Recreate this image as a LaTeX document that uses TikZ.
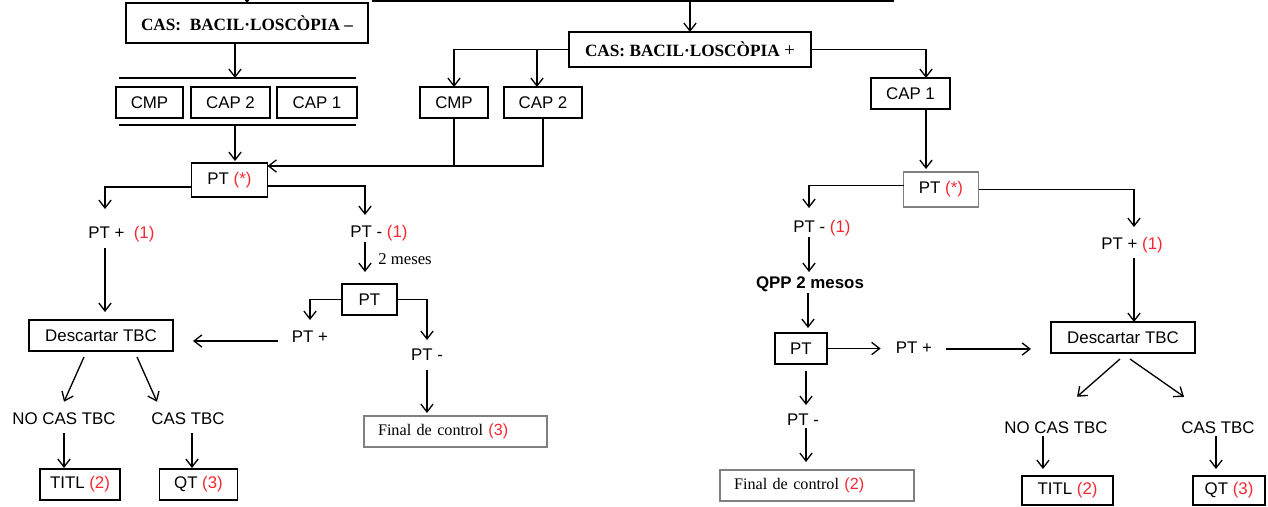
\documentclass[tikz,border=0pt]{standalone}
\usepackage{fontspec}
\setmainfont{Liberation Serif}
\setsansfont{Liberation Sans}
\usetikzlibrary{arrows.meta,calc}
\newcommand\pxu{0.02cm}
\definecolor{rd}{RGB}{245,40,50}
\definecolor{gb}{RGB}{128,128,128}
\tikzset{
  bx/.style 2 args={draw, line width=1pt, minimum width=#1*\pxu, minimum height=#2*\pxu, inner sep=0pt, outer sep=0pt},
  gbx/.style 2 args={bx={#1}{#2}, draw=gb},
  lbl/.style={inner sep=0pt, text height=7pt, text depth=2pt},
  serifbold/.style={font=\rmfamily\bfseries\fontsize{9.8pt}{11pt}\selectfont},
  arr/.style={-{Straight Barb[length=4.5pt,width=7pt]}, line width=0.75pt},
  ln/.style={line width=0.75pt},
  sgap/.style={shorten >=#1*\pxu},
  sgapb/.style={shorten <=#1*\pxu}
}
\begin{document}
\begin{tikzpicture}[x=0.02cm,y=-0.02cm,
  font=\sffamily\fontsize{9.6pt}{11pt}\selectfont]
\useasboundingbox (0,0) rectangle (1268,507);
\clip (0,0) rectangle (1268,507);

% ---------- nodes ----------
\node[bx={520}{62}] (topbox) at (633,-30) {};
\coordinate (topl) at (247,-20);
\node[bx={242}{40}, serifbold] (casm) at (247,23) {CAS:\ \ BACIL·LOSCÒPIA –};
\node[bx={67}{31}] (cmp1) at (149.5,102.5) {CMP};
\node[bx={79}{31}] (cap2a) at (230.5,102.5) {CAP 2};
\node[bx={80}{31}] (cap1a) at (317,102.5) {CAP 1};
\node[bx={76}{34}] (ptL) at (229.5,180) {PT {\color{rd}(*)}};
\node[bx={242}{35}, serifbold] (casp) at (690,49.5) {CAS: BACIL·LOSCÒPIA {\mdseries\fontsize{11pt}{11pt}\selectfont +}};
\node[bx={68}{31}] (cmp2) at (454,102.5) {CMP};
\node[bx={78}{31}] (cap2b) at (543,102.5) {CAP 2};
\node[bx={79}{31}] (cap1b) at (910.5,93.5) {CAP 1};
\node[gbx={75}{35}] (ptR) at (941,189.5) {PT {\color{rd}(*)}};

\node[lbl, anchor=west] (lA) at (88,234) {PT +\ \ {\color{rd}(1)}};
\node[lbl, anchor=west] (lB) at (350,233) {PT - {\color{rd}(1)}};
\node[lbl, anchor=west, font=\rmfamily\fontsize{9.5pt}{11pt}\selectfont] (mes) at (378,260) {2 meses};
\node[bx={55}{31}] (ptS1) at (369.5,299.5) {PT};
\node[lbl] (lC) at (310,338) {PT +};
\node[lbl] (lD) at (427,356) {PT -};
\node[bx={144}{31}] (desL) at (101,335.5) {Descartar TBC};
\node[gbx={183}{31}, text width=3.1cm, align=left, inner xsep=14*\pxu,
      font=\rmfamily\fontsize{9.2pt}{11pt}\selectfont] (fin3) at (455.5,431.5) {Final de control {\sffamily\color{rd}(3)}};
\node[lbl] (noL) at (64,420) {NO CAS TBC};
\node[lbl] (casL) at (188,420) {CAS TBC};
\node[bx={80}{31}] (titlL) at (80,484.5) {TITL {\color{rd}(2)}};
\node[bx={78}{31}] (qtL) at (198.5,484.5) {QT {\color{rd}(3)}};

\node[lbl, anchor=west] (lE) at (793,228) {PT - {\color{rd}(1)}};
\node[lbl, font=\sffamily\bfseries\fontsize{9.6pt}{11pt}\selectfont] (qpp) at (810,284) {QPP 2 mesos};
\node[bx={52}{31}] (ptS2) at (801,348.5) {PT};
\node[lbl] (lF) at (914,349) {PT +};
\node[bx={144}{31}] (desR) at (1123,337.5) {Descartar TBC};
\node[lbl, anchor=west] (lG) at (1101,245) {PT + {\color{rd}(1)}};
\node[lbl] (lH) at (803,421) {PT -};
\node[gbx={194}{31}, text width=3.32cm, align=left, inner xsep=14*\pxu,
      font=\rmfamily\fontsize{9.2pt}{11pt}\selectfont] (fin2) at (817,485.5) {Final de control {\sffamily\color{rd}(2)}};
\node[lbl] (noR) at (1056,429) {NO CAS TBC};
\node[lbl] (casR) at (1218,429) {CAS TBC};
\node[bx={91}{29}] (titlR) at (1067.5,490.5) {TITL {\color{rd}(2)}};
\node[bx={72}{29}] (qtR) at (1229,490.5) {QT {\color{rd}(3)}};

% ---------- top connectors ----------
\coordinate (l1) at (235,78);
\coordinate (l1a) at (119,78);
\coordinate (l1b) at (356,78);
\coordinate (l2) at (235,125);
\coordinate (l2a) at (119,125);
\coordinate (l2b) at (356,125);
\draw[arr] (topl) -- (casm.north);
\draw[arr] (casm.south -| l1) -- (l1);
\draw[ln] (l1a) -- (l1b);
\draw[ln] (l2a) -- (l2b);
\draw[arr, sgap=2] (l2) -- (l2 |- ptL.north);
\draw[arr] (casp.north |- topbox.south) -- (casp.north);
\draw[arr] (casp.west) -| (cmp2.north);
\coordinate (j2) at ($(cap2b.north)+(-6,0)$);
\draw[arr] (j2 |- casp.west) -- (j2);
\coordinate (jL) at ($(ptL.east)+(0,-14)$);
\draw[ln] (cmp2.south) -- (cmp2.south |- jL);
\draw[arr] (cap2b.south) |- (jL);
\coordinate (j3) at ($(cap1b.north)+(15.5,0)$);
\draw[arr] (casp.east) -| (j3);
\coordinate (j4) at ($(cap1b.south)+(15.5,0)$);
\draw[arr, sgap=3] (j4) -- (j4 |- ptR.north);

% ---------- left branch ----------
\coordinate (cA) at ($(lA.west)+(17,0)$);
\draw[arr, sgap=25] ($(ptL.west)+(0,7)$) -| (cA);
\draw[arr, sgapb=14, sgap=8] (cA) -- (cA |- desL.north);
\coordinate (cB) at ($(lB.west)+(15,0)$);
\draw[arr, sgap=18] ($(ptL.east)+(0,6)$) -| (cB);
\draw[arr, sgapb=9, sgap=12] (cB) -- (cB |- ptS1.north);
\draw[arr, sgap=18] (ptS1.west) -| (lC.center);
\draw[arr, sgap=16] (ptS1.east) -| (lD.center);
\coordinate (cC) at ($(lC.west)+(0,3)$);
\draw[arr, sgapb=14, sgap=20] (cC) -- (cC -| desL.east);
\draw[arr, sgapb=14, sgap=3] (lD.center) -- (lD.center |- fin3.north);
\draw[arr] ($(desL.south)+(-17,6)$) -- ($(noL.north)+(0,-10)$);
\draw[arr] ($(desL.south)+(36,6)$) -- ($(casL.north)+(-31,-10)$);
\draw[arr, sgapb=13, sgap=1] (noL.center) -- (noL.center |- titlL.north);
\coordinate (cL) at ($(casL.center)+(4,0)$);
\draw[arr, sgapb=13, sgap=1] (cL) -- (cL |- qtL.north);

% ---------- right branch ----------
\coordinate (cE) at ($(lE.west)+(16,0)$);
\draw[arr, sgap=20] ($(ptR.west)+(0,-4)$) -| (cE);
\draw[arr, sgapb=9, sgap=12] (cE) -- (cE |- qpp.center);
\coordinate (cQ) at ($(qpp.center)+(-2,0)$);
\draw[arr, sgapb=9, sgap=5] (cQ) -- (cQ |- ptS2.north);
\draw[arr, sgap=15] (ptS2.east) -- (ptS2.east -| lF.west);
\draw[arr, sgapb=14, sgap=20] (lF.east) -- (lF.east -| desR.west);
\coordinate (cG) at ($(lG.west)+(33,0)$);
\draw[arr, sgap=18] (ptR.east) -| (cG);
\draw[arr, sgapb=13] (cG) -- (cG |- desR.north);
\coordinate (cS) at ($(ptS2.south)+(5,0)$);
\coordinate (cH) at (cS |- lH.center);
\draw[arr, sgapb=7, sgap=16] (cS) -- (cH);
\draw[arr, sgapb=7, sgap=8] (cH) -- (cH |- fin2.north);
\draw[arr] ($(desR.south)+(-3,6)$) -- ($(noR.north)+(21,-24)$);
\draw[arr] ($(desR.south)+(7,6)$) -- ($(casR.north)+(-34,-24)$);
\coordinate (cN) at ($(noR.center)+(-13,7)$);
\draw[arr, sgap=7] (cN) -- (cN |- titlR.north);
\coordinate (cR) at ($(casR.center)+(-2,7)$);
\draw[arr, sgap=7] (cR) -- (cR |- qtR.north);
\end{tikzpicture}
\end{document}
